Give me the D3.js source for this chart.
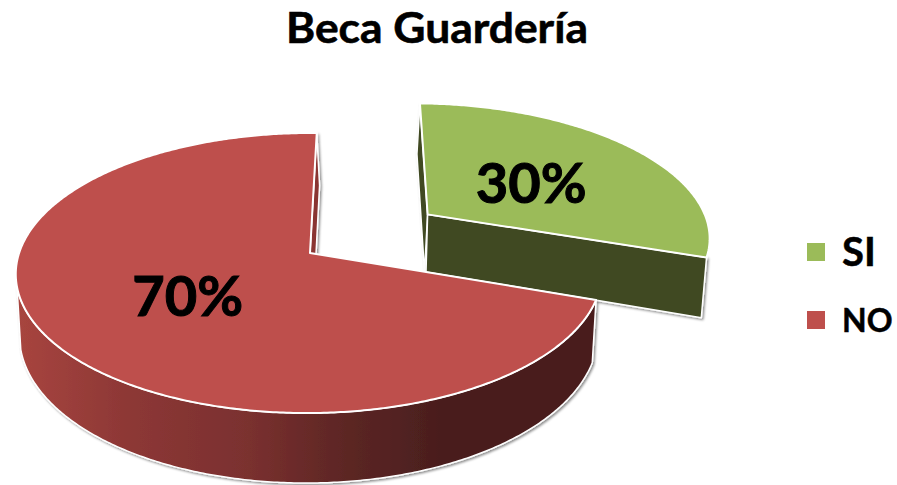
<!DOCTYPE html>
<meta charset="utf-8">
<style>
html, body { margin: 0; background: #fff; }
svg { display: block; font-family: Lato, "Open Sans", sans-serif; font-weight: 700; }
</style>
<body>
<svg id="chart" width="897" height="485"></svg>
</body>
<script src="https://d3js.org/d3.v7.min.js"></script>
<script>
var categories = ["SI", "NO"];
var values = [30, 70];
var title = "Beca Guardería";

var topColors = { SI: "#9BBB59", NO: "#BE4F4C" };
var cutColors = { SI: "#3F4A22", NO: "#8A3533" };
var explode = { SI: 0.513, NO: 0 };      // pull out of the slice, in radii
var cutSkew = { SI: -1.5, NO: 3 };       // the far cut walls lean a bit differently

var svg = d3.select("#chart");
var fmtPct = d3.format(".0%");
var total = d3.sum(values);

// slices clockwise from 12 o'clock, same as the office chart
var pie = d3.pie().sort(null).startAngle(0).endAngle(2 * Math.PI);
var slices = pie(values).map(function (s, i) {
  s.name = categories[i];
  var mid = (s.startAngle + s.endAngle) / 2;
  s.mid = mid;
  s.cx = explode[s.name] * Math.sin(mid);
  s.cy = -explode[s.name] * Math.cos(mid);
  return s;
});

// pie plane (radius 1) to screen, homography fitted on the picture
function project(u, v) {
  var w = 1 - 0.1429 * v;
  return [(290 * u - 52 * v + 310) / w, (2.6 * u + 101 * v + 253) / w, w];
}
// same point on the bottom of the disc
function lower(p) {
  return [p[0] * 0.987 + 3.96, p[1] + 60 / p[2]];
}
function rim(s, a) {
  return project(s.cx + Math.sin(a), s.cy - Math.cos(a));
}
function arcPoints(s, a0, a1) {
  var n = Math.max(2, Math.ceil(Math.abs(a1 - a0) / 0.01));
  return d3.range(n + 1).map(function (i) { return rim(s, a0 + (a1 - a0) * i / n); });
}
function labelPos(d) {
  return project(d.cx + 0.49 * Math.sin(d.mid), d.cy - 0.49 * Math.cos(d.mid));
}

var line = d3.line().curve(d3.curveLinear);
function closed(points) { return line(points) + "Z"; }

var defs = svg.append("defs");
var filter = defs.append("filter").attr("id", "shadow")
    .attr("filterUnits", "userSpaceOnUse")
    .attr("x", 0).attr("y", 0).attr("width", 897).attr("height", 485);
filter.append("feDropShadow")
    .attr("dx", 1.5).attr("dy", 1.5).attr("stdDeviation", 1.2)
    .attr("flood-color", "#000").attr("flood-opacity", 0.45);

var grad = defs.append("linearGradient").attr("id", "redWall")
    .attr("gradientUnits", "userSpaceOnUse")
    .attr("x1", 16).attr("x2", 440).attr("y1", 0).attr("y2", 0);
[[0, "#A8453F"], [0.25, "#8E3836"], [0.55, "#7A302F"], [0.78, "#5C2624"], [1, "#4A1E1E"]]
  .forEach(function (d) {
    grad.append("stop").attr("offset", d[0]).attr("stop-color", d[1]);
  });

function drawWall(points, fill) {
  svg.append("path")
      .attr("d", closed(points))
      .attr("fill", fill)
      .attr("stroke", "#fff")
      .attr("stroke-width", 1.5)
      .attr("stroke-linejoin", "round")
      .attr("filter", "url(#shadow)");
}

function drawCutWall(s, a, skew, fill) {
  var c = project(s.cx, s.cy);
  var r = rim(s, a);
  var lc = lower(c), lr = lower(r);
  drawWall([r, c, [lc[0] + skew, lc[1]], [lr[0] + skew, lr[1]]], fill);
}

function drawTop(s) {
  var pts = [project(s.cx, s.cy)].concat(arcPoints(s, s.startAngle, s.endAngle));
  svg.append("path")
      .attr("d", closed(pts))
      .attr("fill", topColors[s.name])
      .attr("stroke", "#fff")
      .attr("stroke-width", 2)
      .attr("stroke-linejoin", "round");
}

var si = slices[0], no = slices[1];

// back to front: green piece first, the big red one overlaps it
drawCutWall(si, si.startAngle, cutSkew.SI, cutColors.SI);
drawCutWall(si, si.endAngle, 0, cutColors.SI);
drawTop(si);

drawCutWall(no, no.endAngle, cutSkew.NO, cutColors.NO);
var outer = arcPoints(no, no.startAngle, 255 * Math.PI / 180);
drawWall(outer.concat(outer.map(lower).reverse()), "url(#redWall)");
drawTop(no);

// percent labels, thin stroke because Lato is lighter than the original bold
svg.selectAll("text.pct")
    .data(slices)
  .enter().append("text")
    .attr("class", "pct")
    .attr("x", function (d) { return labelPos(d)[0]; })
    .attr("y", function (d) { return labelPos(d)[1]; })
    .attr("dy", "0.4em")
    .attr("text-anchor", "middle")
    .attr("font-size", 56)
    .attr("fill", "#000")
    .attr("stroke", "#000")
    .attr("stroke-width", 1)
    .text(function (d) { return fmtPct(d.value / total); });

svg.append("text")
    .attr("x", 286).attr("y", 43)
    .attr("font-size", 42)
    .attr("textLength", 302)
    .attr("lengthAdjust", "spacingAndGlyphs")
    .attr("fill", "#000")
    .attr("stroke", "#000")
    .attr("stroke-width", 0.6)
    .text(title);

// legend
var legendY = d3.scalePoint().domain(categories).range([252, 320]);
var legend = svg.selectAll("g.legend")
    .data(categories)
  .enter().append("g")
    .attr("class", "legend")
    .attr("transform", function (d) { return "translate(807," + legendY(d) + ")"; });
legend.append("rect")
    .attr("x", 0).attr("y", -9).attr("width", 18).attr("height", 18)
    .attr("fill", function (d) { return topColors[d]; });
legend.append("text")
    .attr("x", 35).attr("dy", "0.36em")
    .attr("font-size", function (d) { return d === "SI" ? 40 : 32; })
    .attr("fill", "#000")
    .attr("stroke", "#000")
    .attr("stroke-width", 0.5)
    .text(function (d) { return d; });
</script>
